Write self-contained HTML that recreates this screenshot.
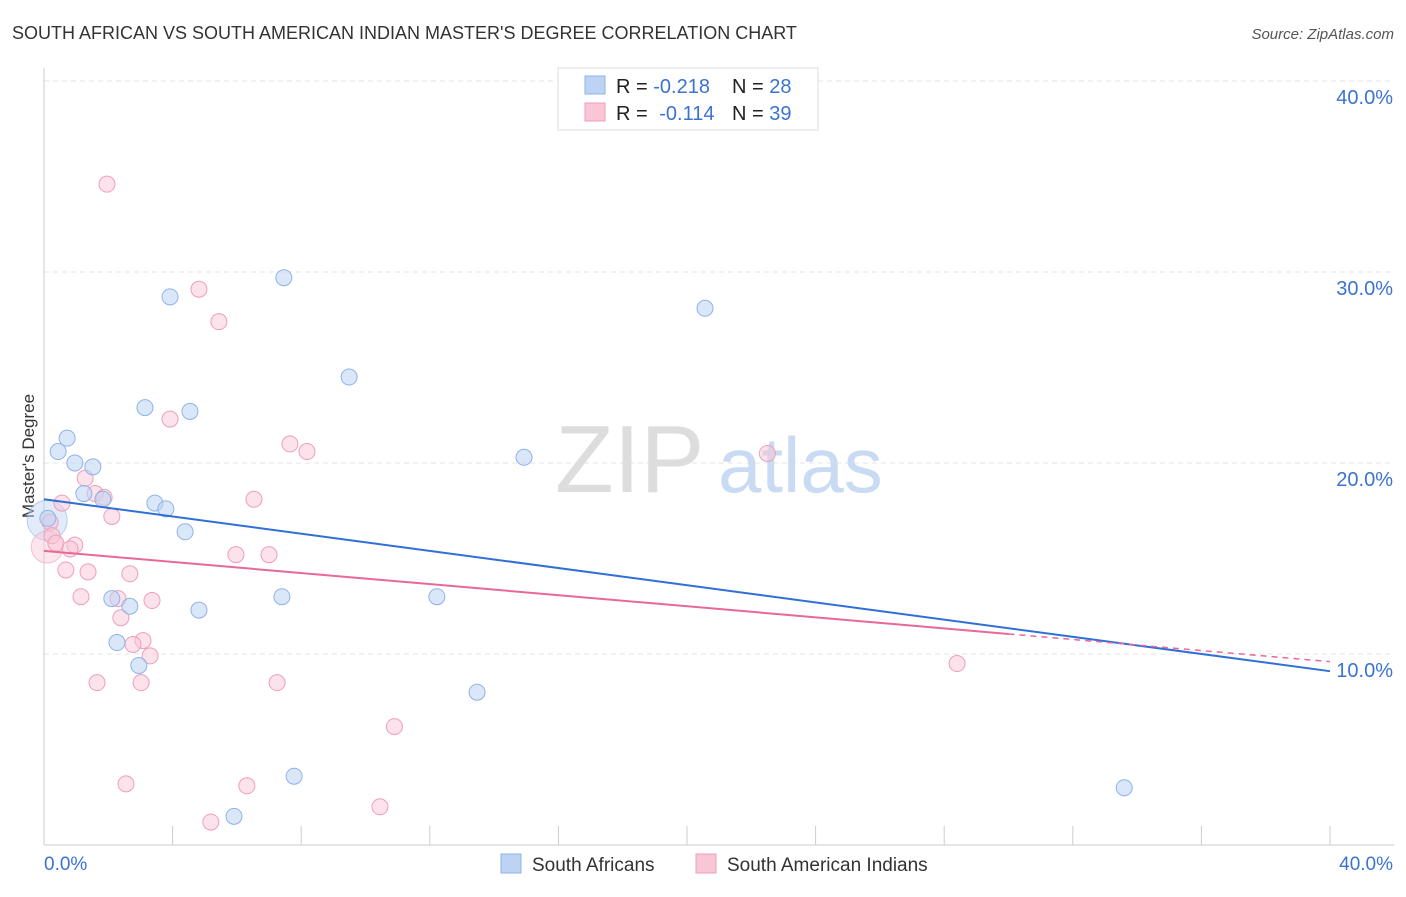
<!DOCTYPE html>
<html><head><meta charset="utf-8"><style>
body{margin:0;background:#fff;font-family:"Liberation Sans",sans-serif;}
svg text{font-family:"Liberation Sans",sans-serif;}
</style></head><body>
<svg id="chart" width="1406" height="892" xmlns="http://www.w3.org/2000/svg">
<text x="12" y="39" font-size="18" fill="#333">SOUTH AFRICAN VS SOUTH AMERICAN INDIAN MASTER'S DEGREE CORRELATION CHART</text>
<text x="1394" y="39" font-size="15" fill="#555" font-style="italic" text-anchor="end">Source: ZipAtlas.com</text>
<text x="34" y="456" font-size="17" fill="#333" text-anchor="middle" transform="rotate(-90 34 456)">Master's Degree</text>
<g id="grid"></g>
<text x="555" y="492" font-size="96" fill="#ddd" font-family="Liberation Serif">ZIP</text>
<text x="718" y="492" font-size="78" fill="#c9daf3">atlas</text>
<g id="marks"></g>
<g>
<rect x="558" y="68" width="260" height="62" fill="#fff" stroke="#ddd"/>
<rect x="585" y="76" width="20" height="18" fill="#bcd3f4" stroke="#8fb2e8"/>
<rect x="585" y="103" width="20" height="18" fill="#f9c6d6" stroke="#ef9fb8"/>
<text x="616" y="93" font-size="20" fill="#222">R = <tspan fill="#3b73d1">-0.218</tspan><tspan x="732">N = </tspan><tspan fill="#3b73d1">28</tspan></text>
<text x="616" y="120" font-size="20" fill="#222">R = <tspan fill="#3b73d1" dx="6">-0.114</tspan><tspan x="732">N = </tspan><tspan fill="#3b73d1">39</tspan></text>
</g>
<g>
<rect x="501" y="854" width="20" height="19" fill="#bcd3f4" stroke="#8fb2e8"/>
<text x="532" y="871" font-size="19" fill="#333">South Africans</text>
<rect x="696" y="854" width="20" height="19" fill="#f9c6d6" stroke="#ef9fb8"/>
<text x="727" y="871" font-size="19" fill="#333">South American Indians</text>
</g>
</svg>
<script>
const blueX=[0.72,0.44,0.96,1.52,1.24,1.83,3.45,3.79,0.12,4.39,3.92,7.46,3.14,4.54,9.49,20.56,14.93,2.11,2.67,4.82,7.40,12.22,2.27,2.95,13.47,7.78,5.91,33.6];
const blueY=[21.3,20.6,20.0,19.8,18.4,18.1,17.9,17.6,17.1,16.4,28.7,29.7,22.9,22.7,24.5,28.1,20.3,12.9,12.5,12.3,13.0,13.0,10.6,9.4,8.0,3.6,1.5,3.0];
const pinkX=[1.96,4.82,5.44,3.92,7.65,8.18,22.5,6.53,0.56,1.28,1.59,1.87,2.11,0.19,0.25,0.37,0.96,0.81,5.97,7.0,0.68,1.37,2.67,1.15,2.30,3.36,2.39,3.08,2.77,3.30,1.65,3.02,7.25,28.4,10.9,2.55,6.31,10.45,5.19];
const pinkY=[34.6,29.1,27.4,22.3,21.0,20.6,20.5,18.1,17.9,19.2,18.4,18.2,17.2,16.9,16.2,15.8,15.7,15.5,15.2,15.2,14.4,14.3,14.2,13.0,12.9,12.8,11.9,10.7,10.5,9.9,8.5,8.5,8.5,9.5,6.2,3.2,3.1,2.0,1.2];
const blueTrend=[18.1,9.1];
const pinkTrend=[15.4,9.6];
const yTicks=[10,20,30,40];
const yTickLabels=["10.0%","20.0%","30.0%","40.0%"];
const xTickLabels=["0.0%","40.0%"];
const NS="http://www.w3.org/2000/svg";
const sx=v=>44+v/40*1286;
const sy=v=>845-v*19.1;
function mk(tag,attrs,parent){const e=document.createElementNS(NS,tag);for(const k in attrs)e.setAttribute(k,attrs[k]);parent.appendChild(e);return e;}
const grid=document.getElementById('grid');
yTicks.forEach((t,i)=>{
  const l=mk('line',{x1:44,x2:1394,y1:sy(t),y2:sy(t),stroke:'#e4e4e4','stroke-dasharray':'5,4'},grid);
  
  
  const tx=mk('text',{x:1393,y:sy(t)+23,'font-size':20,fill:'#3b73d1','text-anchor':'end'},grid);
  tx.textContent=yTickLabels[i];
  
  
});
const ax=mk('line',{x1:44,x2:1394,y1:845,y2:845,stroke:'#ccc'},grid);


const ay=mk('line',{x1:44,x2:44,y1:68,y2:845,stroke:'#ccc'},grid);


for(let i=1;i<=10;i++){const t=mk('line',{x1:sx(i*4),x2:sx(i*4),y1:826,y2:845,stroke:'#ccc'},grid);

}
const xl0=mk('text',{x:44,y:870,'font-size':19,fill:'#3b73d1'},grid);xl0.textContent=xTickLabels[0];


const xl1=mk('text',{x:1393,y:870,'font-size':19,fill:'#3b73d1','text-anchor':'end'},grid);xl1.textContent=xTickLabels[1];


const marks=document.getElementById('marks');
const b1=mk('circle',{cx:sx(0.1),cy:sy(17.0),r:20,fill:'rgba(188,211,244,0.45)',stroke:'rgba(143,178,232,0.6)'},marks);


const b2=mk('circle',{cx:sx(0.1),cy:sy(15.6),r:16,fill:'rgba(249,198,214,0.45)',stroke:'rgba(239,159,184,0.6)'},marks);


pinkX.forEach((x,i)=>{const c=mk('circle',{cx:sx(x),cy:sy(pinkY[i]),r:8,fill:'rgba(249,198,214,0.5)',stroke:'#ef9fb8','stroke-width':1},marks);

});
blueX.forEach((x,i)=>{const c=mk('circle',{cx:sx(x),cy:sy(blueY[i]),r:8,fill:'rgba(188,211,244,0.55)',stroke:'#8fb2e8','stroke-width':1},marks);

});
const bt=mk('line',{x1:sx(0),y1:sy(blueTrend[0]),x2:sx(40),y2:sy(blueTrend[1]),stroke:'#2f6fd6','stroke-width':2},marks);


const pmid=30;const pyMid=pinkTrend[0]+(pinkTrend[1]-pinkTrend[0])*pmid/40;
const pt=mk('line',{x1:sx(0),y1:sy(pinkTrend[0]),x2:sx(pmid),y2:sy(pyMid),stroke:'#e8689a','stroke-width':2},marks);


const pd=mk('line',{x1:sx(pmid),y1:sy(pyMid),x2:sx(40),y2:sy(pinkTrend[1]),stroke:'#e8689a','stroke-width':1.5,'stroke-dasharray':'6,5'},marks);


</script>
</body></html>
